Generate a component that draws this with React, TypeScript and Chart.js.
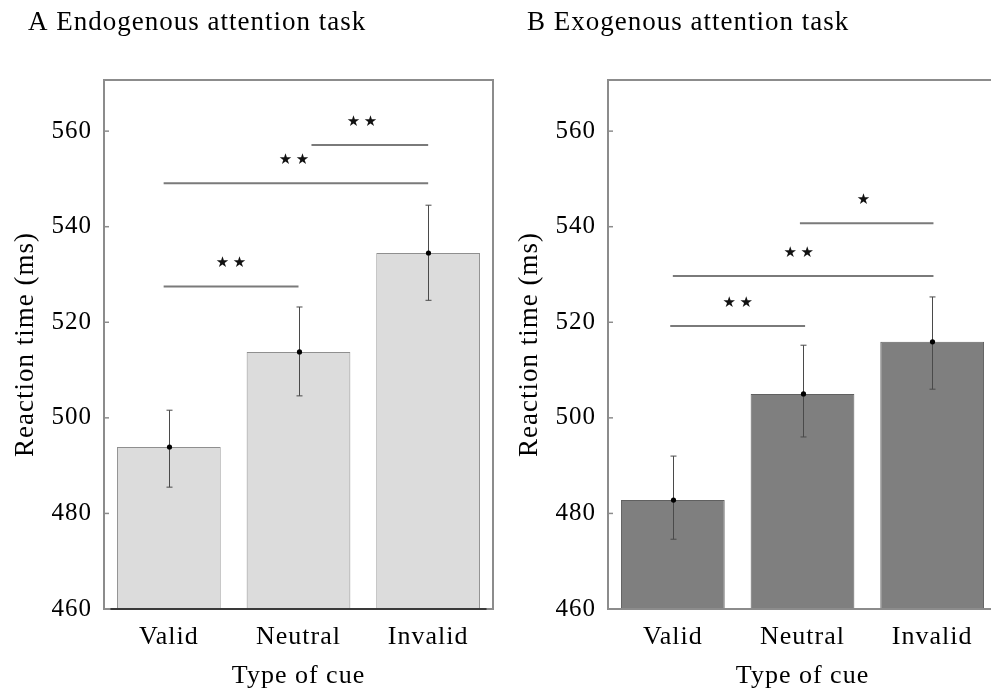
import React, { useEffect, useRef } from "react";
import { Chart, registerables } from "chart.js";
Chart.register(...registerables);

const categories = ["Valid", "Neutral", "Invalid"];
const yTickValues = [460, 480, 500, 520, 540, 560];
const yMin = 460;
const yMax = 570.7;

const endoMeans = [493.9, 513.8, 534.5];
const endoLow = [485.5, 504.6, 524.6];
const endoHigh = [501.6, 523.2, 544.5];

const exoMeans = [482.8, 505.0, 515.9];
const exoLow = [474.6, 496.0, 506.0];
const exoHigh = [492.0, 515.2, 525.3];

// significance brackets (x in category-index units, y in ms)
const endoSigFrom = [-0.04, -0.04, 1.1];
const endoSigTo = [1.0, 2.0, 2.0];
const endoSigY = [527.5, 549.1, 557.1];
const endoSigLabelX = [0.48, 0.965, 1.49];
const endoSigLabels = ["**", "**", "**"];

const exoSigFrom = [-0.02, 0.0, 0.98];
const exoSigTo = [1.02, 2.01, 2.01];
const exoSigY = [519.2, 529.7, 540.7];
const exoSigLabelX = [0.5, 0.97, 1.47];
const exoSigLabels = ["**", "**", "*"];

const FONT = '"Liberation Serif", "Times New Roman", serif';
const TEXT = "#000";

type PanelProps = {
  x: number;
  width: number;
  padRight: number;
  padTop: number;
  title: string;
  titleX: number;
  means: number[];
  low: number[];
  high: number[];
  sigFrom: number[];
  sigTo: number[];
  sigY: number[];
  sigLabelX: number[];
  sigLabels: string[];
  barColor: string;
  barBorder: string;
  baseline: boolean;
};

function Panel(p: PanelProps) {
  const ref = useRef<HTMLCanvasElement | null>(null);
  useEffect(() => {
    const canvas = ref.current!;
    const decor = {
      id: "decor",
      beforeDraw(chart: any) {
        chart.ctx.letterSpacing = "1px";
      },
      afterDatasetsDraw(chart: any) {
        const { ctx, chartArea } = chart;
        const { left, right, top, bottom } = chartArea;
        const xs = chart.scales.x;
        const ys = chart.scales.y;
        ctx.save();
        // frame
        ctx.strokeStyle = "#8c8c8c";
        ctx.lineWidth = 2;
        ctx.strokeRect(left, top, right - left, bottom - top);
        // inner tick marks
        ctx.lineWidth = 1.5;
        yTickValues.forEach((v) => {
          const py = ys.getPixelForValue(v);
          ctx.beginPath();
          ctx.moveTo(left, py);
          ctx.lineTo(left + 5, py);
          ctx.stroke();
        });
        if (p.baseline) {
          ctx.strokeStyle = "#3a3a3a";
          ctx.lineWidth = 2;
          ctx.beginPath();
          ctx.moveTo(xs.getPixelForValue(-0.45), bottom);
          ctx.lineTo(xs.getPixelForValue(2.45), bottom);
          ctx.stroke();
        }
        // error bars
        p.means.forEach((m, i) => {
          const px = Math.round(xs.getPixelForValue(i)) + 0.5;
          const pl = ys.getPixelForValue(p.low[i]);
          const ph = ys.getPixelForValue(p.high[i]);
          ctx.strokeStyle = "#4a4a4a";
          ctx.lineWidth = 1;
          ctx.beginPath();
          ctx.moveTo(px, pl);
          ctx.lineTo(px, ph);
          ctx.moveTo(px - 3, pl);
          ctx.lineTo(px + 3, pl);
          ctx.moveTo(px - 3, ph);
          ctx.lineTo(px + 3, ph);
          ctx.stroke();
          ctx.fillStyle = "#000";
          ctx.beginPath();
          ctx.arc(px, ys.getPixelForValue(m), 2.6, 0, Math.PI * 2);
          ctx.fill();
        });
        // significance lines
        p.sigY.forEach((v, i) => {
          const py = ys.getPixelForValue(v);
          ctx.strokeStyle = "#7a7a7a";
          ctx.lineWidth = 2;
          ctx.beginPath();
          ctx.moveTo(xs.getPixelForValue(p.sigFrom[i]), py);
          ctx.lineTo(xs.getPixelForValue(p.sigTo[i]), py);
          ctx.stroke();
          const label = p.sigLabels[i];
          const cx = xs.getPixelForValue(p.sigLabelX[i]);
          ctx.fillStyle = "#111";
          ctx.font = '15px "DejaVu Sans"';
          ctx.letterSpacing = "0px";
          ctx.textAlign = "center";
          ctx.textBaseline = "middle";
          const n = label.length;
          for (let j = 0; j < n; j++) {
            ctx.fillText("\u2605", cx + (j - (n - 1) / 2) * 17, py - 23);
          }
        });
        // panel title
        ctx.fillStyle = TEXT;
        ctx.font = "27px " + FONT;
        ctx.letterSpacing = "1px";
        ctx.textAlign = "left";
        ctx.textBaseline = "alphabetic";
        ctx.fillText(p.title, p.titleX, 30);
        ctx.restore();
      },
    };
    const chart = new Chart(canvas, {
      type: "bar",
      data: {
        labels: categories,
        datasets: [
          {
            data: p.means,
            backgroundColor: p.barColor,
            borderColor: p.barBorder,
            borderWidth: 1,
            barPercentage: 0.8,
            categoryPercentage: 1,
          },
        ],
      },
      options: {
        responsive: false,
        animation: false,
        layout: { padding: { top: p.padTop, right: p.padRight, left: 0, bottom: 0 } },
        plugins: { legend: { display: false }, tooltip: { enabled: false } },
        scales: {
          x: {
            type: "category",
            offset: true,
            grid: { display: false, drawTicks: false },
            border: { display: false },
            ticks: { color: TEXT, font: { family: FONT, size: 26 }, padding: 13, maxRotation: 0 },
            title: {
              display: true,
              text: "Type of cue",
              color: TEXT,
              font: { family: FONT, size: 26 },
              padding: { top: 0, bottom: 1 },
            },
            afterFit: (s: any) => {
              s.height = 84;
            },
          },
          y: {
            type: "linear",
            min: yMin,
            max: yMax,
            grid: { display: false, drawTicks: false },
            border: { display: false },
            ticks: { color: TEXT, font: { family: FONT, size: 25 }, padding: 12 },
            afterBuildTicks: (s: any) => {
              s.ticks = yTickValues.map((v) => ({ value: v }));
            },
            title: {
              display: true,
              text: "Reaction time (ms)",
              color: TEXT,
              font: { family: FONT, size: 27 },
              padding: { top: 10, bottom: 0 },
            },
            afterFit: (s: any) => {
              s.width = 104;
            },
          },
        },
      },
      plugins: [decor],
    });
    return () => chart.destroy();
  }, []);
  return (
    <canvas
      ref={ref}
      width={p.width}
      height={693}
      style={{ position: "absolute", left: p.x, top: 0, width: p.width, height: 693 }}
    />
  );
}

export default function App() {
  return (
    <div
      style={{
        position: "fixed",
        left: 0,
        top: 0,
        width: 991,
        height: 693,
        overflow: "hidden",
        background: "#fff",
      }}
    >
      <Panel
        x={0}
        width={504}
        padRight={11}
        padTop={80}
        title="A Endogenous attention task"
        titleX={28}
        means={endoMeans}
        low={endoLow}
        high={endoHigh}
        sigFrom={endoSigFrom}
        sigTo={endoSigTo}
        sigY={endoSigY}
        sigLabelX={endoSigLabelX}
        sigLabels={endoSigLabels}
        barColor="#dcdcdc"
        barBorder="#8f8f8f"
        baseline={true}
      />
      <Panel
        x={504}
        width={500}
        padRight={7}
        padTop={80}
        title="B Exogenous attention task"
        titleX={23}
        means={exoMeans}
        low={exoLow}
        high={exoHigh}
        sigFrom={exoSigFrom}
        sigTo={exoSigTo}
        sigY={exoSigY}
        sigLabelX={exoSigLabelX}
        sigLabels={exoSigLabels}
        barColor="#7f7f7f"
        barBorder="#606060"
        baseline={false}
      />
    </div>
  );
}
